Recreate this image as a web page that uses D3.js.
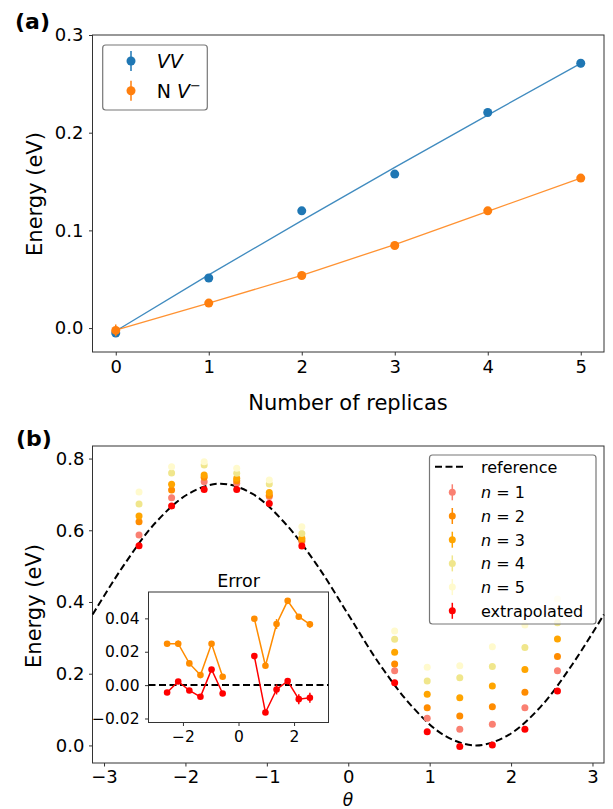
<!DOCTYPE html>
<html>
<head>
<meta charset="utf-8">
<script src="https://cdn.jsdelivr.net/npm/d3@7"></script>
<style>
  body { margin: 0; background: #fff; }
  text { font-family: "DejaVu Sans", sans-serif; fill: #000; }
</style>
</head>
<body>
<div id="chart"></div>
<script>
// panel (a): energy vs number of replicas
let replicas = [0, 1, 2, 3, 4, 5];
let vvEnergy = [-0.005, 0.0512, 0.120, 0.1576, 0.2207, 0.2711];
let vvErr    = [0.002, 0.001, 0.001, 0.001, 0.001, 0.004];
let vvFit    = [-0.003, 0.0545, 0.110, 0.1645, 0.218, 0.271];
let nvEnergy = [-0.0024, 0.0256, 0.0538, 0.0845, 0.120, 0.1535];
let nvErr    = [0.006, 0.001, 0.001, 0.001, 0.001, 0.001];
let nvFit    = [-0.002, 0.0255, 0.054, 0.0855, 0.1195, 0.1535];

// panel (b): energy vs theta
let thetas = [-2.57, -2.17, -1.77, -1.37, -0.97, -0.57, 0.57, 0.97, 1.37, 1.77, 2.17, 2.57];
let eN1 = [0.587, 0.691, 0.735, 0.731, 0.694, 0.568, 0.208, 0.076, 0.045, 0.059, 0.105, 0.208];
let eN2 = [0.624, 0.712, 0.748, 0.738, 0.698, 0.573, 0.227, 0.105, 0.082, 0.108, 0.148, 0.248];
let eN3 = [0.640, 0.728, 0.754, 0.745, 0.705, 0.578, 0.260, 0.143, 0.133, 0.166, 0.212, 0.297];
let eN4 = [0.673, 0.760, 0.782, 0.759, 0.729, 0.591, 0.296, 0.180, 0.189, 0.220, 0.273, 0.342];
let eN5 = [0.707, 0.777, 0.791, 0.773, 0.740, 0.610, 0.319, 0.218, 0.222, 0.275, 0.336, 0.408];
let eExtrap = [0.557, 0.668, 0.714, 0.714, 0.675, 0.556, 0.175, 0.038, -0.003, 0.001, 0.045, 0.152];
let seriesLabels = ["1", "2", "3", "4", "5"];
let seriesColors = ["#fa8072", "#ff8c00", "#ffa500", "#f0e68c", "#fffacd"];

// reference curve
let refTheta  = [-3.14, -2.75, -2.36, -1.96, -1.57, -1.18, -0.79, -0.39, 0, 0.39, 0.79, 1.18, 1.57, 1.96, 2.36, 2.75, 3.14];
let refEnergy = [0.365, 0.505, 0.623, 0.702, 0.730, 0.702, 0.623, 0.505, 0.365, 0.225, 0.107, 0.028, 0.0, 0.028, 0.107, 0.225, 0.365];

// inset: error
let errOrange    = [0.0248, 0.0248, 0.013, 0.006, 0.0248, 0.005, 0.0398, 0.0116, 0.0366, 0.0505, 0.041, 0.0364];
let errOrangeBar = [0.001, 0.002, 0.001, 0.001, 0.001, 0.001, 0.001, 0.001, 0.003, 0.001, 0.001, 0.002];
let errRed       = [-0.0044, 0.0022, -0.0032, -0.007, 0.0094, -0.005, 0.0174, -0.0164, -0.0026, 0.0024, -0.0084, -0.0076];
let errRedBar    = [0.001, 0.001, 0.001, 0.001, 0.001, 0.001, 0.001, 0.001, 0.003, 0.001, 0.003, 0.003];

let width = 613, height = 809;
let svg = d3.select("#chart").append("svg")
    .attr("width", width)
    .attr("height", height)
    .style("background", "#fff");

//draws ticks, tick labels and the box round an axes
function axesFrame(x, y, xt, yt, xf, yf, fs, pad) {
    let [x0, x1] = x.range(), [y1, y0] = y.range();
    let gx = svg.append("g")
        .attr("transform", `translate(0,${y1})`)
        .call(d3.axisBottom(x).tickValues(xt).tickFormat(xf).tickSize(3.5).tickSizeOuter(0).tickPadding(pad));
    let gy = svg.append("g")
        .attr("transform", `translate(${x0},0)`)
        .call(d3.axisLeft(y).tickValues(yt).tickFormat(yf).tickSize(3.5).tickSizeOuter(0).tickPadding(pad + 0.5));
    [gx, gy].forEach(g => {
        g.attr("font-size", fs);
        g.select(".domain").remove();
        g.selectAll(".tick line").attr("stroke", "#333");
    });
    svg.append("rect")
        .attr("x", x0).attr("y", y0)
        .attr("width", x1 - x0).attr("height", y1 - y0)
        .attr("fill", "none")
        .attr("stroke", "#333")
        .attr("stroke-width", 1);
}

function errDot(g, cx, cy, r, half, color) {
    g.append("line")
        .attr("x1", cx).attr("x2", cx)
        .attr("y1", cy - half).attr("y2", cy + half)
        .attr("stroke", color).attr("stroke-width", 1.5);
    g.append("circle").attr("cx", cx).attr("cy", cy).attr("r", r).attr("fill", color);
}

// ---------- panel (a) ----------
let xa = d3.scaleLinear().domain([-0.25, 5.25]).range([92.5, 604]);
let ya = d3.scaleLinear().domain([-0.0245, 0.3]).range([352, 35]);

axesFrame(xa, ya, [0, 1, 2, 3, 4, 5], [0, 0.1, 0.2, 0.3], d3.format("d"), d3.format(".1f"), 18, 5);

let lineA = d3.line().x((d, i) => xa(replicas[i])).y(d => ya(d));
let gA = svg.append("g");
[[vvFit, vvEnergy, vvErr, "#1f77b4"], [nvFit, nvEnergy, nvErr, "#ff7f0e"]].forEach(([fit, vals, errs, c]) => {
    gA.append("path")
        .attr("d", lineA(fit))
        .attr("fill", "none")
        .attr("stroke", c)
        .attr("stroke-opacity", 0.85)
        .attr("stroke-width", 1.3);
    vals.forEach((v, i) => {
        gA.append("line")
            .attr("x1", xa(replicas[i])).attr("x2", xa(replicas[i]))
            .attr("y1", ya(v - errs[i])).attr("y2", ya(v + errs[i]))
            .attr("stroke", c).attr("stroke-width", 1.5);
        gA.append("circle")
            .attr("cx", xa(replicas[i])).attr("cy", ya(v))
            .attr("r", 4.5).attr("fill", c);
    });
});

//legend (a)
let legA = svg.append("g");
legA.append("rect")
    .attr("x", 102.7).attr("y", 45).attr("width", 104.6).attr("height", 65).attr("rx", 3)
    .attr("fill", "#fff").attr("fill-opacity", 0.8)
    .attr("stroke", "#777").attr("stroke-width", 1.2);
errDot(legA, 131, 61, 4.5, 10, "#1f77b4");
errDot(legA, 131, 90.7, 4.5, 10, "#ff7f0e");
legA.append("text").attr("x", 156.7).attr("y", 68).attr("font-size", 19)
    .attr("font-style", "italic").text("VV");
let nvText = legA.append("text").attr("x", 156.7).attr("y", 97.5).attr("font-size", 19);
nvText.append("tspan").text("N ");
nvText.append("tspan").attr("font-style", "italic").text("V");
nvText.append("tspan").attr("font-size", 13).attr("dy", -8).text("\u2212");

svg.append("text").attr("x", 15).attr("y", 29).attr("font-size", 22).attr("font-weight", "bold").text("(a)");
svg.append("text")
    .attr("transform", "translate(42,194) rotate(-90)")
    .attr("text-anchor", "middle").attr("font-size", 21)
    .text("Energy (eV)");
svg.append("text").attr("x", 348).attr("y", 410)
    .attr("text-anchor", "middle").attr("font-size", 21)
    .text("Number of replicas");

// ---------- panel (b) ----------
let xb = d3.scaleLinear().domain([-Math.PI, Math.PI]).range([92.5, 604]);
let yb = d3.scaleLinear().domain([-0.049, 0.835]).range([763, 446]);

axesFrame(xb, yb, [-3, -2, -1, 0, 1, 2, 3], [0, 0.2, 0.4, 0.6, 0.8], d3.format("d"), d3.format(".1f"), 18, 4);

let gB = svg.append("g");
gB.append("path")
    .attr("d", d3.line().curve(d3.curveCatmullRom).x((d, i) => xb(refTheta[i])).y(d => yb(d))(refEnergy))
    .attr("fill", "none")
    .attr("stroke", "#000")
    .attr("stroke-width", 2)
    .attr("stroke-dasharray", "7,3.5");

let allSeries = [eN1, eN2, eN3, eN4, eN5];
allSeries.forEach((vals, s) => {
    gB.selectAll(null)
        .data(vals)
        .enter()
        .append("circle")
        .attr("cx", (d, i) => xb(thetas[i]))
        .attr("cy", d => yb(d))
        .attr("r", 3.5)
        .attr("fill", seriesColors[s]);
});
gB.selectAll(null)
    .data(eExtrap)
    .enter()
    .append("circle")
    .attr("cx", (d, i) => xb(thetas[i]))
    .attr("cy", d => yb(d))
    .attr("r", 3.5)
    .attr("fill", "#ff0000");

//legend (b)
let legB = svg.append("g");
legB.append("rect")
    .attr("x", 429.5).attr("y", 455).attr("width", 166.5).attr("height", 169).attr("rx", 3)
    .attr("fill", "#fff").attr("fill-opacity", 0.8)
    .attr("stroke", "#777").attr("stroke-width", 1.2);
legB.append("line")
    .attr("x1", 435).attr("x2", 465).attr("y1", 466.7).attr("y2", 466.7)
    .attr("stroke", "#000").attr("stroke-width", 2).attr("stroke-dasharray", "7,3.5");
legB.append("text").attr("x", 481).attr("y", 472.5).attr("font-size", 16).text("reference");
seriesLabels.forEach((lab, s) => {
    let cy = 492.3 + s * 23.7;
    errDot(legB, 452.3, cy, 3.5, 8, seriesColors[s]);
    let t = legB.append("text").attr("x", 481).attr("y", cy + 6).attr("font-size", 16);
    t.append("tspan").attr("font-style", "italic").text("n");
    t.append("tspan").text(" = " + lab);
});
errDot(legB, 452.3, 610.8, 3.5, 8, "#ff0000");
legB.append("text").attr("x", 481).attr("y", 616.8).attr("font-size", 16).text("extrapolated");

svg.append("text").attr("x", 16).attr("y", 446).attr("font-size", 22).attr("font-weight", "bold").text("(b)");
svg.append("text")
    .attr("transform", "translate(41,606) rotate(-90)")
    .attr("text-anchor", "middle").attr("font-size", 21)
    .text("Energy (eV)");
svg.append("text").attr("x", 348).attr("y", 805.5)
    .attr("text-anchor", "middle").attr("font-size", 17).attr("font-style", "italic")
    .text("\u03b8");

// ---------- inset ----------
let xi = d3.scaleLinear().domain([-3.24, 3.24]).range([148.5, 328.5]);
let yi = d3.scaleLinear().domain([-0.0224, 0.0558]).range([722.5, 592]);

svg.append("rect")
    .attr("x", 148.5).attr("y", 592).attr("width", 180).attr("height", 130.5)
    .attr("fill", "#fff");
axesFrame(xi, yi, [-2, 0, 2], [-0.02, 0, 0.02, 0.04], d3.format("d"), d3.format(".2f"), 15.5, 5);

let gI = svg.append("g");
gI.append("line")
    .attr("x1", 148.5).attr("x2", 328.5)
    .attr("y1", yi(0)).attr("y2", yi(0))
    .attr("stroke", "#000").attr("stroke-width", 2).attr("stroke-dasharray", "7,3.5");

let lineI = d3.line().x(d => xi(d[0])).y(d => yi(d[1]));
[[errOrange, errOrangeBar, "#ff8c00"], [errRed, errRedBar, "#ff0000"]].forEach(([vals, bars, c]) => {
    let pts = vals.map((v, i) => [thetas[i], v]);
    [pts.filter(p => p[0] < 0), pts.filter(p => p[0] > 0)].forEach(part => {
        gI.append("path")
            .attr("d", lineI(part))
            .attr("fill", "none")
            .attr("stroke", c)
            .attr("stroke-width", 1.5);
    });
    vals.forEach((v, i) => {
        gI.append("line")
            .attr("x1", xi(thetas[i])).attr("x2", xi(thetas[i]))
            .attr("y1", yi(v - bars[i])).attr("y2", yi(v + bars[i]))
            .attr("stroke", c).attr("stroke-width", 1.5);
        gI.append("circle")
            .attr("cx", xi(thetas[i])).attr("cy", yi(v))
            .attr("r", 3.3).attr("fill", c);
    });
});

svg.append("text").attr("x", 238.5).attr("y", 586.5)
    .attr("text-anchor", "middle").attr("font-size", 17.5)
    .text("Error");
</script>
</body>
</html>
